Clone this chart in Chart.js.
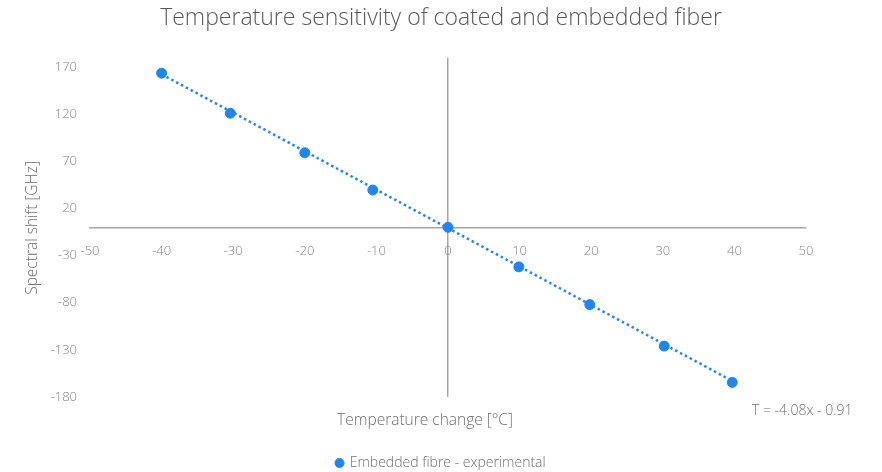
<!DOCTYPE html>
<html>
<head>
<meta charset="utf-8">
<script src="https://cdn.jsdelivr.net/npm/chart.js@4.4.1/dist/chart.umd.min.js"></script>
<style>
  html, body { margin: 0; padding: 0; background: #fff; }
  #wrap { width: 882px; height: 472px; }
</style>
</head>
<body>
<div id="wrap"><canvas id="fiberChart"></canvas></div>
<script>
// Measured temperature change vs spectral shift
const tempChange = [-40, -30.4, -20, -10.5, 0, 9.9, 19.8, 30.2, 39.7];
const spectralShift = [163.5, 121, 79, 39.5, 0, -42, -82, -126, -164.5];

// Linear fit shown on the chart
const fitSlope = -4.08;
const fitIntercept = -0.91;
const fitRange = [-40, 40];

const xTicks = [-50, -40, -30, -20, -10, 0, 10, 20, 30, 40, 50];
const yTicks = [-180, -130, -80, -30, 20, 70, 120, 170];

const blue = '#1f86f0';
const axisGray = '#a6a6a6';
const textGray = '#858585';
const fontFamily = "'Open Sans', 'Noto Sans', sans-serif";

const fitPoints = fitRange.map(x => ({ x: x, y: fitSlope * x + fitIntercept }));

// Axis titles and the fit equation are drawn by hand
const extraText = {
  id: 'extraText',
  afterDraw(chart) {
    const c = chart.ctx;
    c.save();
    c.fillStyle = '#6e6e6e';
    c.textBaseline = 'middle';

    c.font = '300 15.5px ' + fontFamily;
    c.textAlign = 'center';
    c.fillText('Temperature change [°C]', 425, 421);

    c.save();
    c.translate(33, 228);
    c.rotate(-Math.PI / 2);
    c.fillText('Spectral shift [GHz]', 0, 0);
    c.restore();

    c.font = '300 14px ' + fontFamily;
    c.textAlign = 'left';
    c.fillText('T = ' + fitSlope.toFixed(2) + 'x - ' + Math.abs(fitIntercept).toFixed(2), 752, 411);
    c.restore();
  }
};

const ctx = document.getElementById('fiberChart').getContext('2d');

const fiberChart = new Chart(ctx, {
  type: 'scatter',
  data: {
    datasets: [{
      label: 'Embedded fibre - experimental',
      data: tempChange.map((x, i) => ({ x: x, y: spectralShift[i] })),
      backgroundColor: blue,
      borderColor: blue,
      pointRadius: 5,
      pointHoverRadius: 5,
      pointStyle: 'circle',
      order: 1
    }, {
      label: 'Linear fit',
      data: fitPoints,
      showLine: true,
      borderColor: blue,
      borderWidth: 2.5,
      borderDash: [2.5, 3],
      pointRadius: 0,
      fill: false,
      order: 2
    }]
  },
  options: {
    responsive: true,
    maintainAspectRatio: false,
    animation: false,
    layout: { padding: 0 },
    plugins: {
      title: {
        display: true,
        text: 'Temperature sensitivity of coated and embedded fiber',
        color: '#595959',
        font: { family: fontFamily, size: 23, weight: '300' },
        padding: { top: 4.2, bottom: 25.8 }
      },
      legend: {
        position: 'bottom',
        maxHeight: 18,
        labels: {
          filter: item => item.datasetIndex === 0,
          usePointStyle: true,
          boxWidth: 6.4,
          boxHeight: 6.4,
          color: '#6e6e6e',
          font: { family: fontFamily, size: 14, weight: '300' },
          padding: 2
        }
      },
      tooltip: { enabled: false }
    },
    scales: {
      x: {
        type: 'linear',
        position: { y: 0 },
        min: -50,
        max: 50,
        afterBuildTicks: axis => { axis.ticks = xTicks.map(v => ({ value: v })); },
        grid: {
          drawTicks: false,
          color: c => (c.tick && c.tick.value === 0) ? axisGray : 'rgba(0,0,0,0)',
          lineWidth: 1.5
        },
        border: { display: true, color: axisGray, width: 1.5 },
        ticks: {
          color: textGray,
          padding: 16,
          font: { family: fontFamily, size: 13, weight: '300' }
        }
      },
      // spacer under the plot area for the axis title
      xSpace: {
        type: 'linear',
        position: 'bottom',
        grid: { display: false },
        border: { display: false },
        ticks: { display: false },
        afterFit: axis => { axis.height = 57; }
      },
      y: {
        type: 'linear',
        position: 'left',
        min: -180,
        max: 180,
        afterBuildTicks: axis => { axis.ticks = yTicks.map(v => ({ value: v })); },
        afterFit: axis => { axis.width = 90; },
        grid: { display: false },
        border: { display: false },
        ticks: {
          color: textGray,
          padding: 5,
          font: { family: fontFamily, size: 13, weight: '300' }
        }
      },
      // spacer right of the plot area for the equation
      ySpace: {
        type: 'linear',
        position: 'right',
        grid: { display: false },
        border: { display: false },
        ticks: { display: false },
        afterFit: axis => { axis.width = 76; }
      }
    }
  },
  plugins: [extraText]
});
</script>
</body>
</html>
